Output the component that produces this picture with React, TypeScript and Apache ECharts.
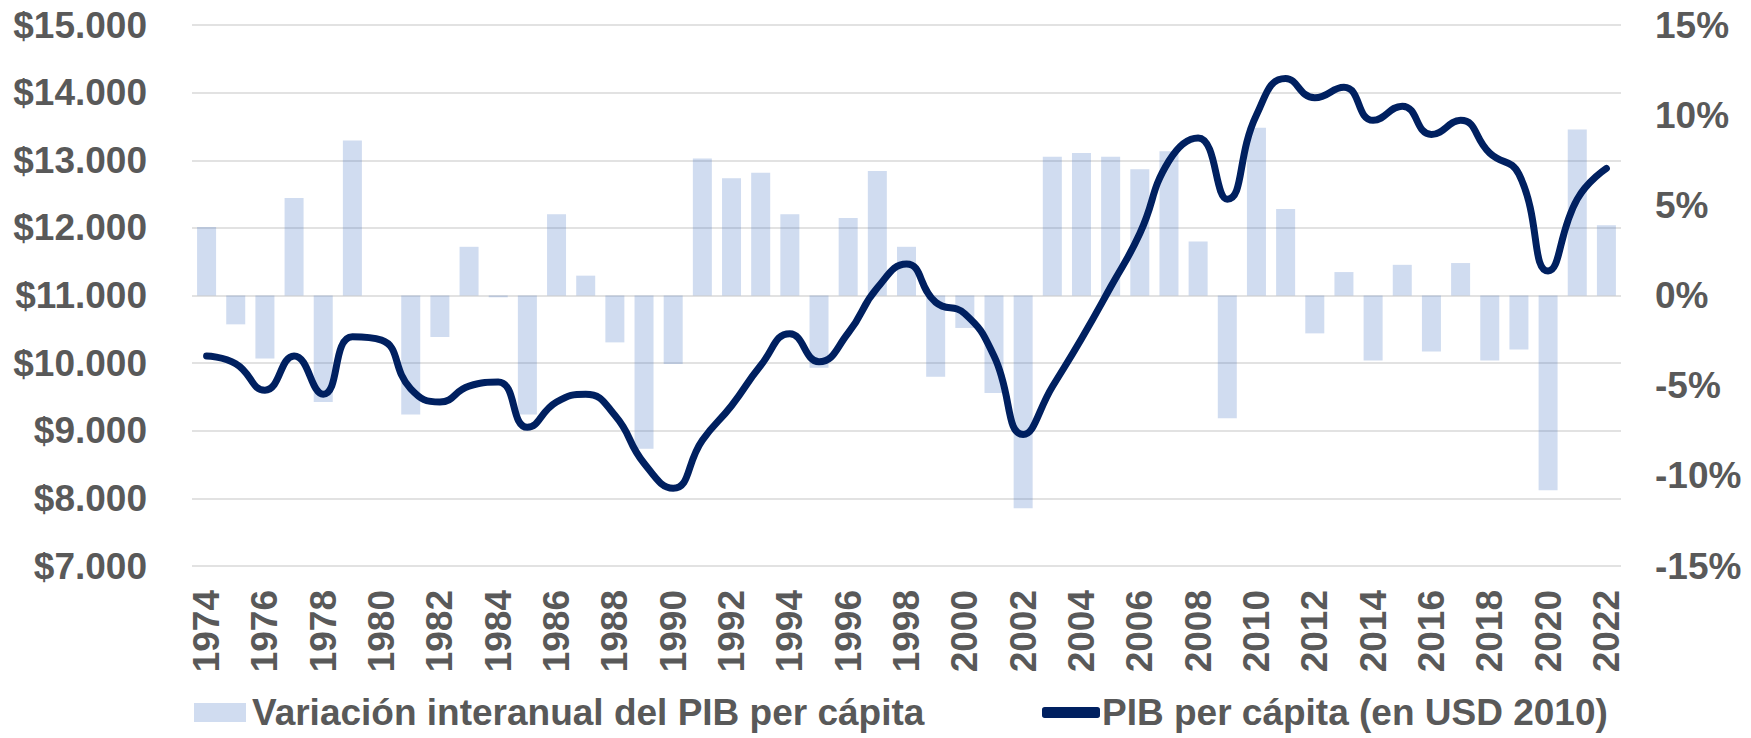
import React, { useEffect, useRef } from "react";
import * as echarts from "echarts";

const years = [
  "1974","1975","1976","1977","1978","1979","1980","1981","1982","1983",
  "1984","1985","1986","1987","1988","1989","1990","1991","1992","1993",
  "1994","1995","1996","1997","1998","1999","2000","2001","2002","2003",
  "2004","2005","2006","2007","2008","2009","2010","2011","2012","2013",
  "2014","2015","2016","2017","2018","2019","2020","2021","2022",
];

const growthPct = [
  3.8, -1.6, -3.5, 5.4, -5.9, 8.6, 0.0, -6.6, -2.3, 2.7,
  -0.1, -6.6, 4.5, 1.1, -2.6, -8.5, -3.8, 7.6, 6.5, 6.8,
  4.5, -4.0, 4.3, 6.9, 2.7, -4.5, -1.8, -5.4, -11.8, 7.7,
  7.9, 7.7, 7.0, 8.0, 3.0, -6.8, 9.3, 4.8, -2.1, 1.3,
  -3.6, 1.7, -3.1, 1.8, -3.6, -3.0, -10.8, 9.2, 3.9,
];

const gdpPerCapita = [
  10105, 9990, 9600, 10105, 9540, 10390, 10340, 9620, 9425, 9660,
  9720, 9050, 9425, 9540, 9228, 8520, 8150, 8860, 9370, 9965,
  10435, 10020, 10445, 11113, 11465, 10900, 10730, 10105, 8945, 9650,
  10360, 11125, 11917, 12990, 13330, 12425, 13670, 14210, 13925, 14080,
  13590, 13800, 13380, 13590, 13105, 12795, 11362, 12425, 12880,
];

const barName = "Variación interanual del PIB per cápita";
const lineName = "PIB per cápita (en USD 2010)";

const FONT = "'Liberation Sans', Arial, sans-serif";
const GREY = "#595959";

export default function App() {
  const ref = useRef<HTMLDivElement>(null);
  useEffect(() => {
    if (!ref.current) return;
    const chart = echarts.init(ref.current, null, { renderer: "svg" });
    const labelStyle = {
      fontFamily: FONT,
      fontWeight: "bold" as const,
      fontSize: 37,
      color: GREY,
    };
    chart.setOption({
      animation: false,
      grid: { left: 192, right: 130, top: 25, bottom: 172 },
      legend: [
        {
          data: [barName],
          left: 194,
          top: 694,
          padding: 0,
          itemWidth: 52,
          itemHeight: 19,
          itemGap: 0,
          icon: "rect",
          textStyle: { ...labelStyle, padding: [0, 0, 0, 1] },
        },
        {
          data: [lineName],
          left: 1042,
          top: 694,
          padding: 0,
          itemWidth: 58,
          itemHeight: 11,
          icon: "roundRect",
          textStyle: { ...labelStyle, padding: [0, 0, 0, -3] },
        },
      ],
      xAxis: {
        type: "category",
        data: years,
        axisLine: { show: false },
        axisTick: { show: false },
        axisLabel: {
          ...labelStyle,
          rotate: 90,
          interval: 1,
          margin: 24,
        },
      },
      yAxis: [
        {
          type: "value",
          min: 7000,
          max: 15000,
          interval: 1000,
          axisLine: { show: false },
          axisTick: { show: false },
          splitLine: { lineStyle: { color: "#d9d9d9", width: 1.5 } },
          axisLabel: {
            ...labelStyle,
            margin: 45,
            formatter: (v: number) =>
              "$" + Math.round(v).toString().replace(/\B(?=(\d{3})+(?!\d))/g, "."),
          },
        },
        {
          type: "value",
          min: -15,
          max: 15,
          interval: 5,
          position: "right",
          axisLine: { show: false },
          axisTick: { show: false },
          splitLine: { show: false },
          axisLabel: {
            ...labelStyle,
            margin: 34,
            formatter: (v: number) => `${v}%`,
          },
        },
      ],
      series: [
        {
          name: barName,
          type: "bar",
          yAxisIndex: 1,
          data: growthPct,
          barWidth: 19,
          itemStyle: { color: "rgba(68,114,196,0.25)" },
        },
        {
          name: lineName,
          type: "line",
          yAxisIndex: 0,
          data: gdpPerCapita,
          smooth: 0.5,
          showSymbol: false,
          symbol: "none",
          lineStyle: { color: "#002060", width: 7, cap: "round" },
          itemStyle: { color: "#002060" },
        },
      ],
    });
    return () => chart.dispose();
  }, []);
  return (
    <div
      ref={ref}
      style={{ position: "fixed", left: 0, top: 0, width: 1751, height: 738, background: "#fff" }}
    />
  );
}
